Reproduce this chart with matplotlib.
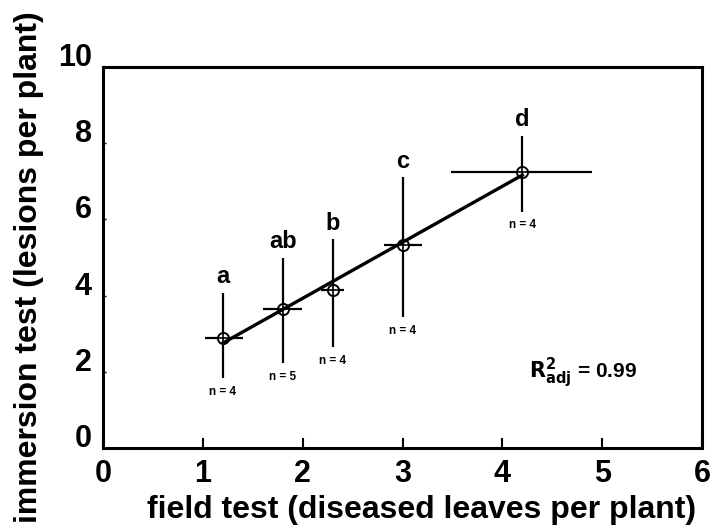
import numpy as np
import matplotlib.pyplot as plt
from matplotlib.transforms import ScaledTranslation

plt.rcParams['font.family'] = ['Liberation Sans', 'DejaVu Sans']

# group means (field test vs immersion test)
field = [1.2, 1.8, 2.3, 3.0, 4.2]
immersion = [2.9, 3.65, 4.15, 5.33, 7.24]
# error bar ends
field_lo = [1.02, 1.6, 2.18, 2.81, 3.49]
field_hi = [1.4, 1.99, 2.41, 3.2, 4.9]
imm_lo = [1.84, 2.23, 2.65, 3.44, 6.2]
imm_hi = [4.07, 5.0, 5.48, 7.11, 8.2]
groups = ['a', 'ab', 'b', 'c', 'd']
n_obs = [4, 5, 4, 4, 4]

# regression line
slope = 1.47
intercept = 0.99
fit_x = [1.2, 4.2]

fig = plt.figure(figsize=(7.13, 5.28), dpi=100)
ax = fig.add_axes([0.1445, 0.1515, 0.8401, 0.7215])

x = np.array(field)
y = np.array(immersion)
xerr = [x - np.array(field_lo), np.array(field_hi) - x]
yerr = [y - np.array(imm_lo), np.array(imm_hi) - y]
ax.errorbar(x, y, xerr=xerr, yerr=yerr, fmt='none', ecolor='black',
            elinewidth=1.6, capsize=0, zorder=2)
ax.plot(x, y, 'o', mfc='white', mec='black', ms=8, mew=1.4, zorder=3)
ax.plot(x, y, '+', color='black', ms=8, mew=1.2, zorder=4)

fx = np.array(fit_x)
ax.plot(fx, slope * fx + intercept, color='black', lw=2.4, zorder=5)

for xi, hi, lo, g, n in zip(field, imm_hi, imm_lo, groups, n_obs):
    ax.text(xi, hi + 0.12, g, ha='center', va='bottom', fontsize=17,
            fontweight='bold')
    ax.text(xi, lo - 0.2, 'n = %d' % n, ha='center', va='top', fontsize=8.5,
            fontweight='bold')

ax.text(4.27, 1.97, r'$\mathbf{R^2_{adj}}$ = 0.99', ha='left', va='center',
        fontsize=15, fontweight='bold')

ax.set_xlim(0, 6)
ax.set_ylim(0, 10)
ax.set_xticks(range(0, 7))
ax.set_yticks(range(0, 11, 2))
ax.tick_params(axis='x', direction='in', length=7, width=1.5, pad=8,
               labelsize=22)
ax.tick_params(axis='y', direction='in', length=2, width=1, pad=8,
               labelsize=22)
for lab in ax.get_xticklabels() + ax.get_yticklabels():
    lab.set_fontweight('bold')
# the y numbers sit a little above their ticks in the original
shift = ScaledTranslation(0, 9 / 72, fig.dpi_scale_trans)
for lab in ax.get_yticklabels():
    lab.set_transform(lab.get_transform() + shift)
for s in ax.spines.values():
    s.set_linewidth(2.2)

ax.set_xlabel('field test (diseased leaves per plant)', fontsize=23,
              fontweight='bold', labelpad=4)
ax.set_ylabel('immersion test (lesions per plant)', fontsize=23,
              fontweight='bold', labelpad=10)
ax.xaxis.label.set_x(0.532)
ax.yaxis.label.set_y(0.475)

fig.savefig('out.png', dpi=100)
